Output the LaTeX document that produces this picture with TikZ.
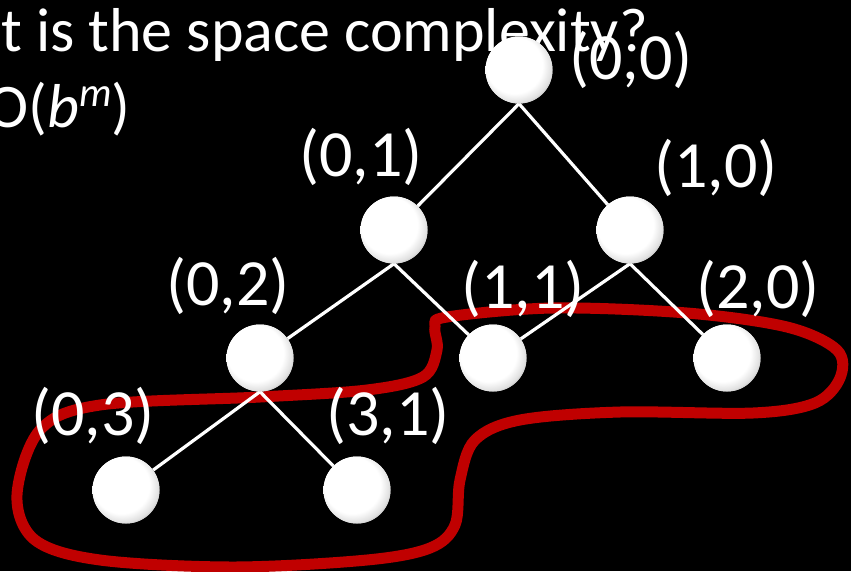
\documentclass[tikz,border=0pt]{standalone}
\usepackage{fontspec}
\setmainfont{Carlito}
\definecolor{loopred}{RGB}{192,0,0}
\pgfdeclareradialshading{sphereshade}{\pgfpoint{-6bp}{6bp}}{color(0bp)=(white); color(21bp)=(white); color(27bp)=(black!12); color(31bp)=(black!35); color(33bp)=(black!50); color(50bp)=(black!50)}
\begin{document}
\begin{tikzpicture}[x=1pt,y=-1pt,
  sph/.style={circle, minimum size=67pt, inner sep=0pt, shading=sphereshade},
  edge/.style={white, line width=3.2pt},
  lbl/.style={text=white, font=\fontsize{66}{78}\selectfont, inner sep=0pt},
  ttl/.style={text=white, font=\fontsize{62}{74}\selectfont, inner sep=0pt}]
\useasboundingbox (0,0) rectangle (851,571);
\fill[black] (0,0) rectangle (851,571);
\clip (0,0) rectangle (851,571);
% title text
\node[ttl, anchor=base east] (title) at (648,51) {What is the space complexity?};
\node[ttl, anchor=base east] (ans) at (131,127) {O(\textit{b}\raisebox{0.33em}{\fontsize{41}{41}\selectfont\textit{m}})};
% red loop
\draw[loopred, line width=11pt, line join=round] plot[smooth cycle, tension=0.55] coordinates {
  (447,317) (553,308) (687,313) (787,327) (837,350) (840,378) (815,403) (753,413)
  (620,412) (520,420) (475,440) (460,480) (455,525) (430,548) (367,560) (233,567)
  (100,560) (35,540) (17,495) (40,430) (100,405) (260,397) (367,390) (423,377)
  (437,350) (435,327)};
% nodes
\node[sph] (n00) at (519,70) {};
\node[sph] (n01) at (394,230) {};
\node[sph] (n10) at (630,230) {};
\node[sph] (n02) at (260,358) {};
\node[sph] (n11) at (493,358) {};
\node[sph] (n20) at (727,358) {};
\node[sph] (n03) at (126,490) {};
\node[sph] (n31) at (357,490) {};
% edges
\draw[edge] (n00.south) -- (n01);
\draw[edge] (n00.south) -- (n10);
\draw[edge] (n01.south) -- (n02);
\draw[edge] (n01.south) -- (n11);
\draw[edge] (n10.south) -- (n11);
\draw[edge] (n10.south) -- (n20);
\draw[edge] (n02.south) -- (n03);
\draw[edge] (n02.south) -- (n31);
% redraw spheres above edges
\foreach \n in {n00,n01,n10,n02,n11,n20,n03,n31}{
  \path[shading=sphereshade] (\n) circle (33.5pt);
}
% labels
\node[lbl] (l00) at (631,60) {(0,0)};
\node[lbl] (l01) at (361,157) {(0,1)};
\node[lbl] (l10) at (716,168) {(1,0)};
\node[lbl] (l02) at (228,286) {(0,2)};
\node[lbl] (l11) at (523,289) {(1,1)};
\node[lbl] (l20) at (758,289) {(2,0)};
\node[lbl] (l03) at (93,416) {(0,3)};
\node[lbl] (l31) at (388,416) {(3,1)};
\end{tikzpicture}
\end{document}
